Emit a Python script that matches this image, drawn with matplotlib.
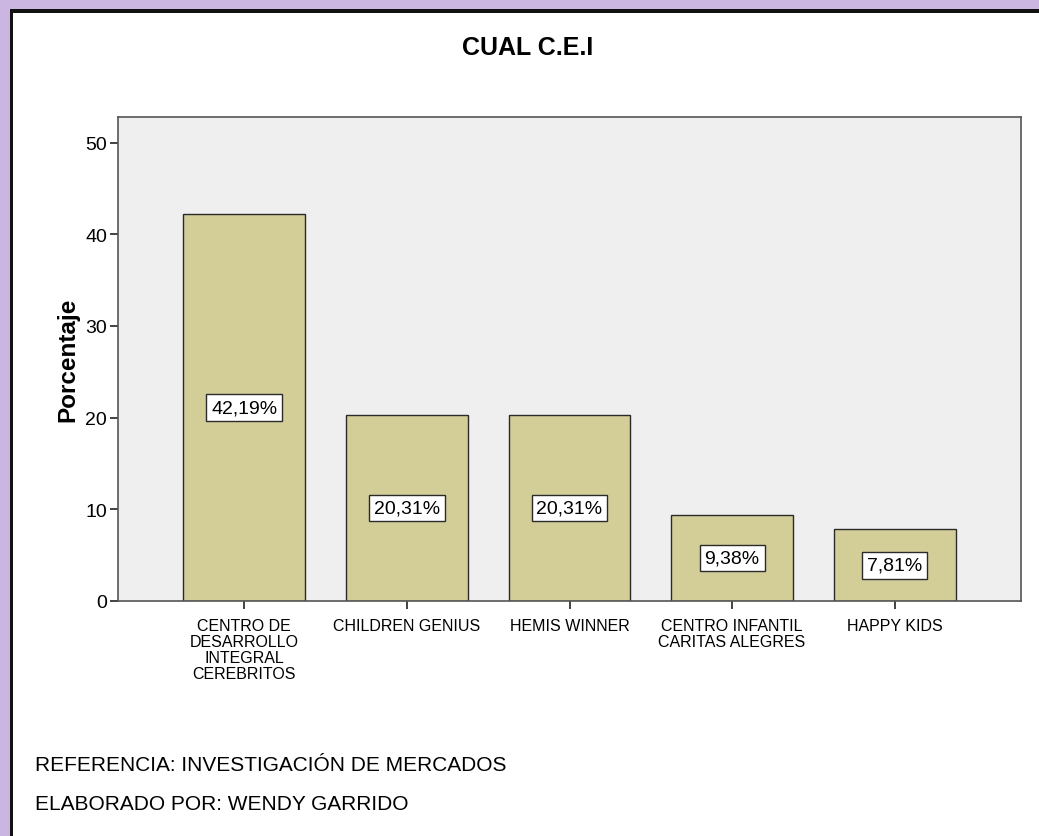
import matplotlib.pyplot as plt
from matplotlib.patches import Rectangle

plt.rcParams['font.family'] = ['Liberation Sans', 'DejaVu Sans']

categories = ['CENTRO DE\nDESARROLLO\nINTEGRAL\nCEREBRITOS', 'CHILDREN GENIUS',
              'HEMIS WINNER', 'CENTRO INFANTIL\nCARITAS ALEGRES', 'HAPPY KIDS']
percentages = [42.19, 20.31, 20.31, 9.38, 7.81]
yticks = [0, 10, 20, 30, 40, 50]

W, H = 1039, 837
fig = plt.figure(figsize=(W / 100, H / 100), dpi=100)
fig.patch.set_facecolor('white')

# axes box in pixels: left 118, right 1021, top 118, bottom 602
ax = fig.add_axes([118 / W, 1 - 602 / H, (1021 - 118) / W, (602 - 118) / H])
ax.set_facecolor('#efefef')

x = list(range(len(categories)))
ax.bar(x, percentages, width=0.75, color='#d3ce98', edgecolor='#2a2a2a', linewidth=1.0)
for xi, v in zip(x, percentages):
    ax.text(xi, v / 2, '{:.2f}%'.format(v).replace('.', ','), ha='center', va='center', fontsize=14,
            bbox=dict(boxstyle='square,pad=0.25', facecolor='white', edgecolor='#2a2a2a', linewidth=1.0))

ax.set_xlim(-0.777, 4.777)
ax.set_ylim(0, 52.8)
ax.set_yticks(yticks)
ax.set_xticks(x)
ax.set_xticklabels(categories, fontsize=11.5, linespacing=1.1)
ax.tick_params(axis='y', labelsize=14, length=6, width=1.2, color='#222222', pad=2)
ax.tick_params(axis='x', length=6, width=1.2, color='#222222', pad=6)
for s in ax.spines.values():
    s.set_color('#555555')
    s.set_linewidth(1.2)
ax.set_ylabel('Porcentaje', fontsize=17.5, fontweight='bold', labelpad=4)

fig.text(528 / W, 1 - 48 / H, 'CUAL C.E.I', ha='center', va='center', fontsize=18, fontweight='bold')
fig.text(35 / W, 1 - 766 / H, 'REFERENCIA: INVESTIGACIÓN DE MERCADOS', ha='left', va='center', fontsize=15)
fig.text(35 / W, 1 - 805 / H, 'ELABORADO POR: WENDY GARRIDO', ha='left', va='center', fontsize=15)

# purple frame on top and left, black inner line
fig.patches.append(Rectangle((0, 1 - 10 / H), 1, 10 / H, transform=fig.transFigure,
                             facecolor='#cbb6e2', edgecolor='none', zorder=0))
fig.patches.append(Rectangle((0, 0), 10 / W, 1, transform=fig.transFigure,
                             facecolor='#cbb6e2', edgecolor='none', zorder=0))
fig.patches.append(Rectangle((10 / W, 1 - 14 / H), 1, 4 / H, transform=fig.transFigure,
                             facecolor='#111111', edgecolor='none', zorder=0))
fig.patches.append(Rectangle((10 / W, 0), 3 / W, 1 - 10 / H, transform=fig.transFigure,
                             facecolor='#111111', edgecolor='none', zorder=0))

fig.savefig('out.png', dpi=100)
